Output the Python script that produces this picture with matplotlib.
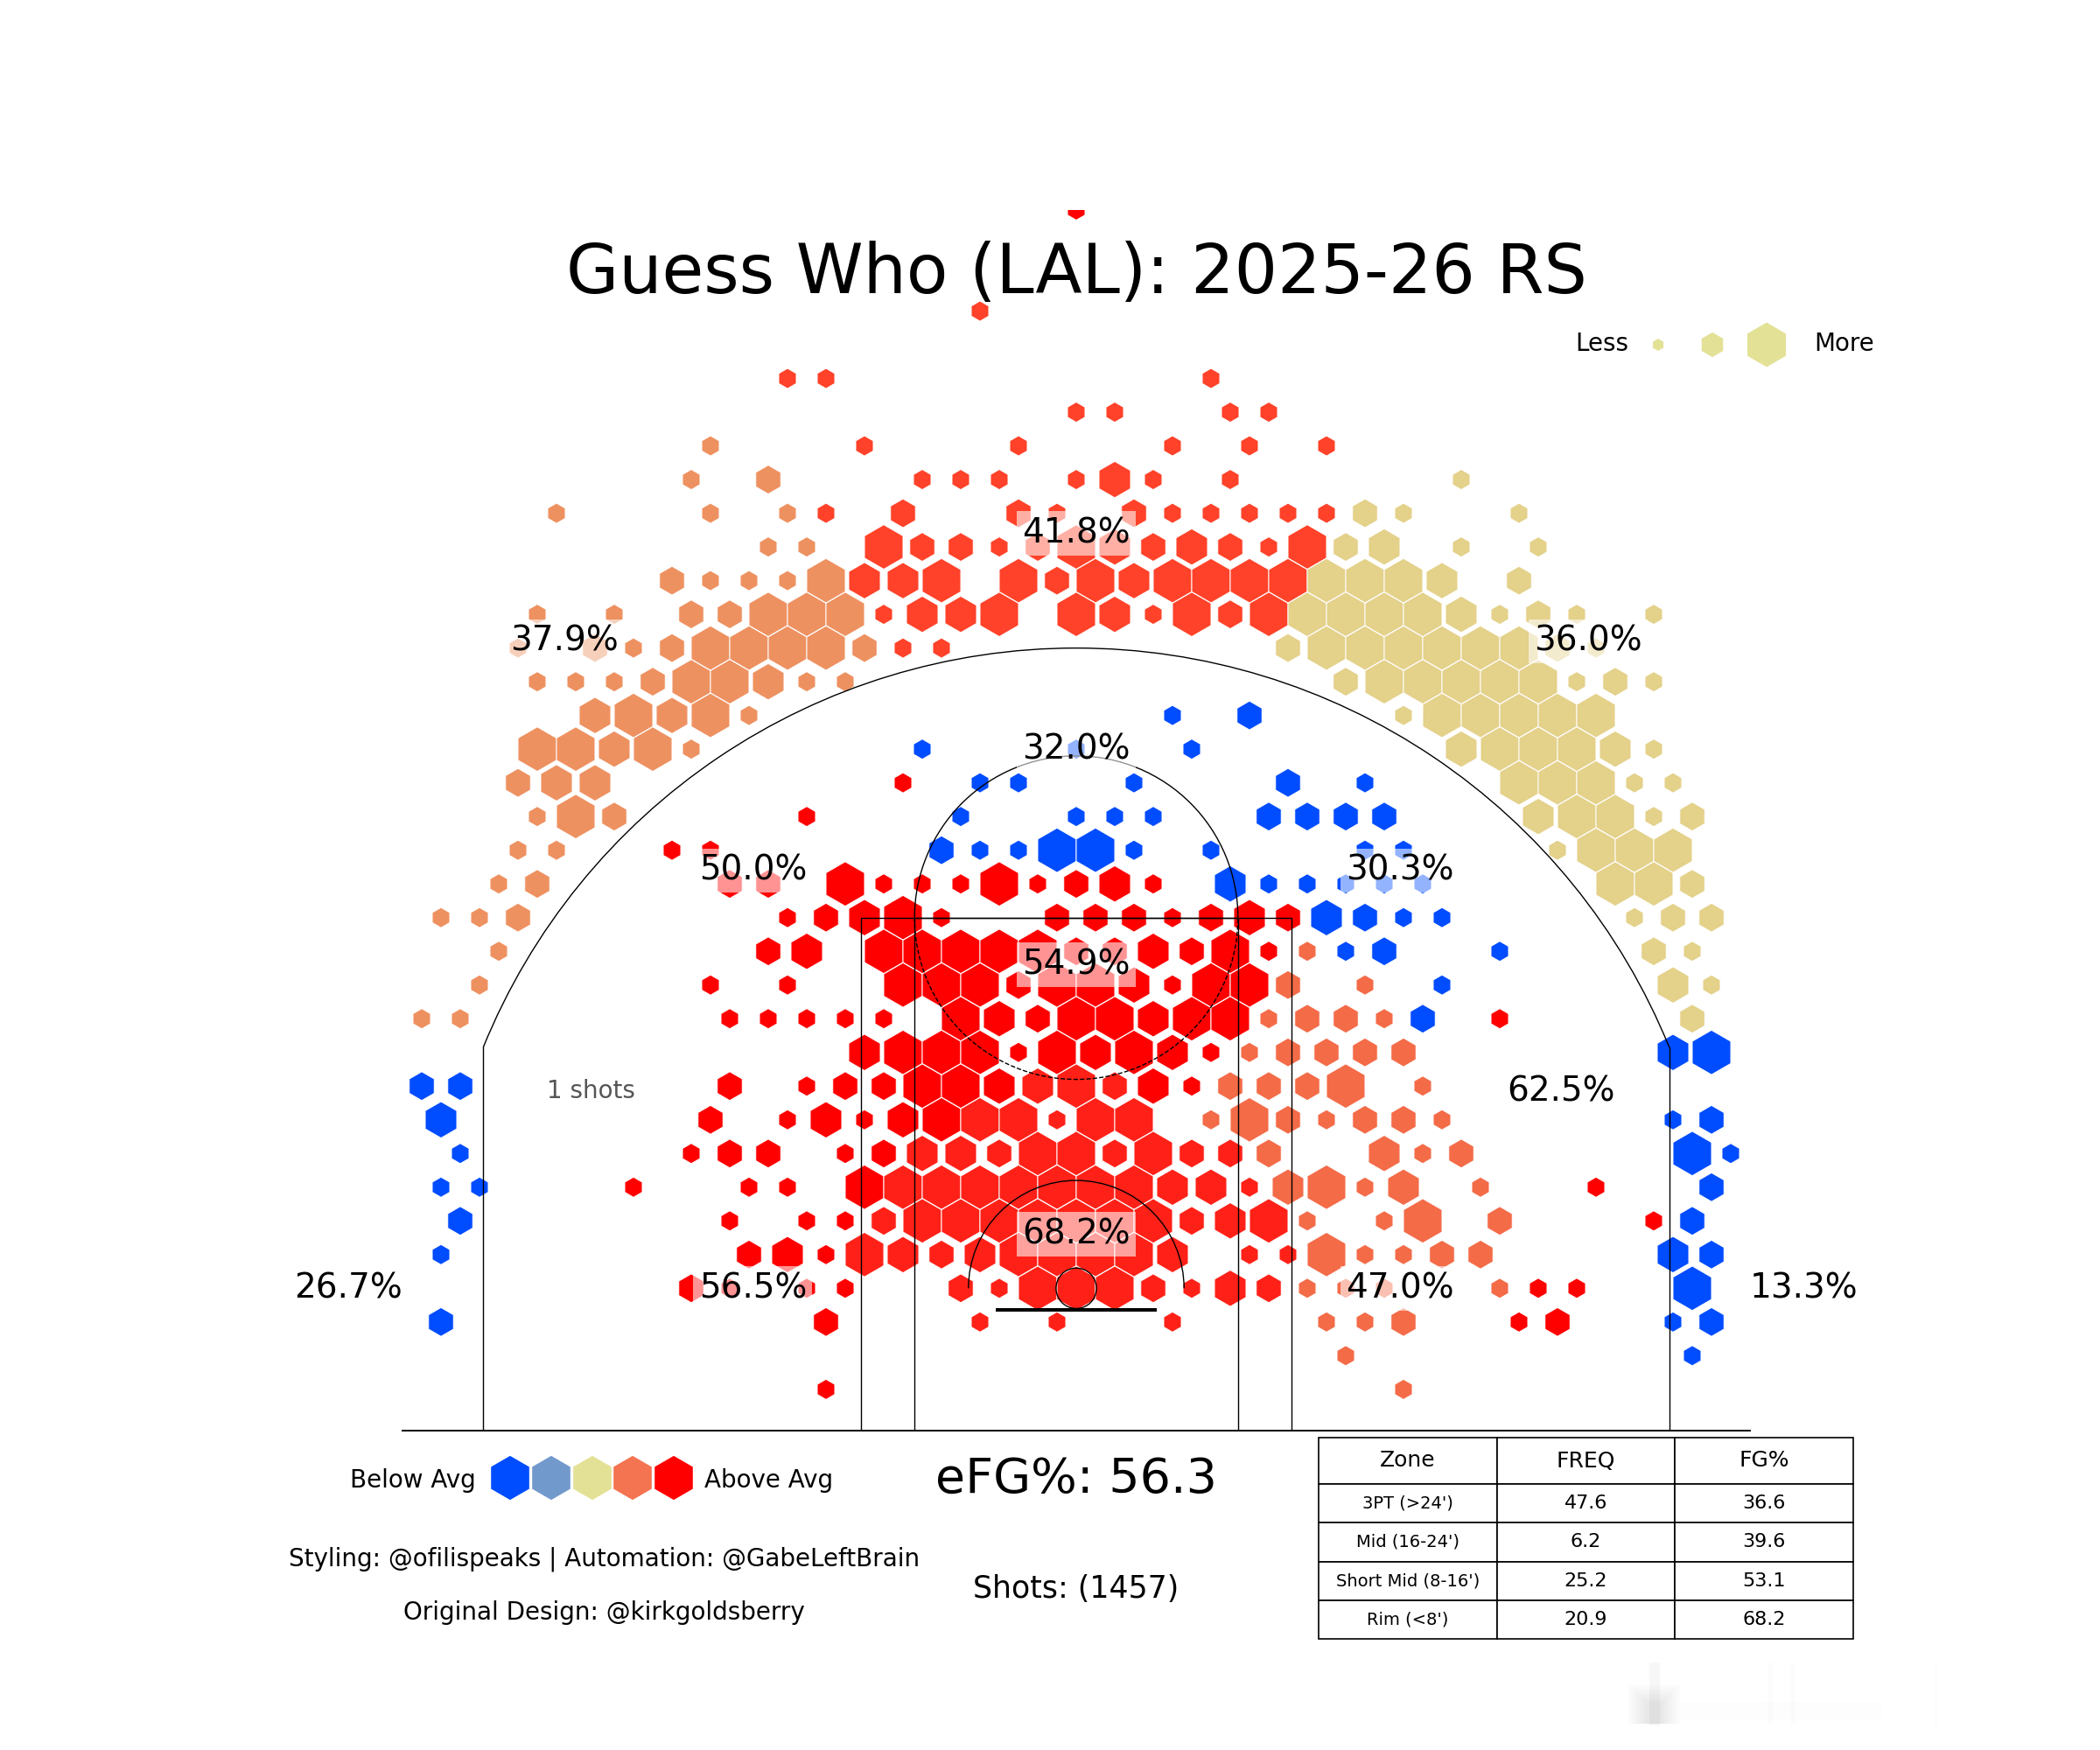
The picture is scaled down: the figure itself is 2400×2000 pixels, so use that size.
import numpy as np
import matplotlib
matplotlib.use('Agg')
import matplotlib.pyplot as plt
from matplotlib.patches import Circle, Arc, Rectangle

W, H = 2400.0, 2000.0

# hexbin cells as (row, half column, size class), one list per zone colour
orange_hexes = [(25,-19,1),(24,-20,1),(24,-16,2),(23,-27,1),(23,-19,1),(23,-15,1),(22,-16,1),(22,-14,1),
    (21,-21,2),(21,-19,1),(21,-17,1),(21,-15,1),(21,-13,4),
    (20,-28,1),(20,-24,1),(20,-20,2),(20,-18,2),(20,-16,4),(20,-14,4),(20,-12,4),
    (19,-29,1),(19,-25,2),(19,-23,1),(19,-21,2),(19,-19,4),(19,-17,4),(19,-15,4),(19,-13,4),(19,-11,2),
    (18,-28,1),(18,-26,1),(18,-24,1),(18,-22,2),(18,-20,4),(18,-18,4),(18,-16,3),(18,-14,1),(18,-12,1),
    (17,-25,3),(17,-23,4),(17,-21,3),(17,-19,4),(17,-17,1),
    (16,-28,4),(16,-26,4),(16,-24,3),(16,-22,4),(16,-20,1),
    (15,-29,2),(15,-27,3),(15,-25,3),(14,-28,1),(14,-26,4),(14,-24,2),(13,-29,1),(13,-27,1),
    (12,-30,1),(12,-28,2),(11,-33,1),(11,-31,1),(11,-29,2),(10,-30,1),(9,-31,1),(8,-34,1),(8,-32,1)]

top_hexes = [(29,-5,1),(27,-15,1),(27,-13,1),(27,7,1),(26,0,1),(26,2,1),(26,8,1),(26,10,1),
    (25,-11,1),(25,-3,1),(25,5,1),(25,9,1),(25,13,1),
    (24,-8,1),(24,-6,1),(24,-4,1),(24,0,1),(24,2,3),(24,4,1),(24,8,1),
    (23,-13,1),(23,-9,2),(23,-3,2),(23,-1,1),(23,3,2),(23,5,1),(23,7,1),(23,9,1),(23,11,1),(23,13,1),
    (22,-10,4),(22,-8,2),(22,-6,2),(22,-4,1),(22,-2,2),(22,0,4),(22,2,3),(22,4,2),(22,6,3),(22,8,2),(22,10,1),(22,12,4),
    (21,-11,3),(21,-9,3),(21,-7,4),(21,-3,4),(21,-1,2),(21,1,4),(21,3,3),(21,5,4),(21,7,4),(21,9,4),(21,11,4),
    (20,-10,1),(20,-8,3),(20,-6,3),(20,-4,4),(20,0,4),(20,2,3),(20,4,1),(20,6,4),(20,8,2),(20,10,4),
    (19,-9,1),(19,-7,1)]

tan_hexes = [(24,20,1),(23,15,2),(23,17,1),(23,23,1),(22,14,2),(22,16,3),(22,20,1),(22,24,1),
    (21,13,4),(21,15,4),(21,17,4),(21,19,3),(21,23,2),
    (20,12,4),(20,14,4),(20,16,4),(20,18,4),(20,20,3),(20,22,1),(20,24,2),(20,26,1),(20,30,1),
    (19,11,2),(19,13,4),(19,15,4),(19,17,4),(19,19,4),(19,21,4),(19,23,4),(19,25,2),(19,27,1),
    (18,14,2),(18,16,4),(18,18,4),(18,20,4),(18,22,4),(18,24,4),(18,26,1),(18,28,2),(18,30,1),
    (17,17,1),(17,19,4),(17,21,4),(17,23,4),(17,25,4),(17,27,4),
    (16,20,3),(16,22,4),(16,24,4),(16,26,4),(16,28,3),(16,30,1),
    (15,23,4),(15,25,4),(15,27,4),(15,29,1),(15,31,1),
    (14,24,3),(14,26,4),(14,28,4),(14,30,1),(14,32,2),
    (13,25,1),(13,27,4),(13,29,4),(13,31,4),(12,28,4),(12,30,4),(12,32,2),
    (11,29,1),(11,31,2),(11,33,2),(10,30,2),(10,32,1),(9,31,3),(9,33,1),(8,32,2)]

blue_hexes = [(6,-34,2),(6,-32,2),(5,-33,3),(4,-32,1),(3,-33,1),(3,-31,1),(2,-32,2),(1,-33,1),(-1,-33,2),
    (7,31,3),(7,33,4),(5,31,1),(5,33,2),(4,32,4),(4,34,1),(3,33,2),(2,32,2),(1,31,3),(1,33,2),
    (0,32,4),(-1,31,1),(-1,33,2),(-2,32,1),
    (17,5,1),(17,9,2),(16,-8,1),(16,0,1),(16,6,1),(15,-5,1),(15,-3,1),(15,3,1),(15,11,2),(15,15,1),
    (14,-6,1),(14,0,1),(14,2,1),(14,4,1),(14,10,2),(14,12,2),(14,14,2),(14,16,2),
    (13,-7,2),(13,-5,1),(13,-3,1),(13,-1,4),(13,1,4),(13,3,1),(13,7,1),(13,15,1),(13,17,1),
    (12,8,3),(12,10,1),(12,12,1),(12,14,1),(12,16,1),(12,18,1),
    (11,13,3),(11,15,2),(11,17,1),(11,19,1),(10,14,1),(10,16,2),(10,22,1),(9,19,1),(8,18,2)]

red_hexes = [(32,0,1),(15,-9,1),(14,-14,1),(13,-21,1),(13,-19,1),
    (12,-18,2),(12,-16,2),(12,-12,4),(12,-10,1),(12,-8,1),(12,-6,1),(12,-4,4),(12,-2,1),(12,0,2),(12,2,3),(12,4,1),
    (11,-15,1),(11,-13,2),(11,-11,3),(11,-9,4),(11,-7,1),(11,-1,2),(11,1,2),(11,3,2),(11,5,1),(11,7,2),(11,9,3),(11,11,2),
    (10,-16,2),(10,-14,3),(10,-10,4),(10,-8,4),(10,-6,4),(10,-4,4),(10,-2,4),(10,0,2),(10,2,2),(10,4,3),(10,6,2),(10,8,4),(10,10,1),
    (9,-19,1),(9,-15,1),(9,-9,4),(9,-7,4),(9,-5,4),(9,-3,2),(9,-1,4),(9,1,4),(9,3,3),(9,5,1),(9,7,4),(9,9,4),
    (8,-18,1),(8,-16,1),(8,-14,1),(8,-12,1),(8,-10,1),(8,-6,4),(8,-4,3),(8,-2,2),(8,0,4),(8,2,4),(8,4,3),(8,6,4),(8,8,4),(8,22,1),
    (7,-11,3),(7,-9,4),(7,-7,4),(7,-5,4),(7,-3,1),(7,-1,4),(7,1,3),(7,3,4),(7,5,3),(7,7,1),
    (6,-18,2),(6,-14,1),(6,-12,2),(6,-10,2),(6,-8,4),(6,-6,4),(6,-4,3),(6,4,3),(6,6,1),
    (5,-19,2),(5,-15,1),(5,-13,3),(5,-11,1),(5,-9,3),(5,-7,4),
    (4,-20,1),(4,-18,2),(4,-16,2),(4,-12,1),(4,-10,2),
    (3,-23,1),(3,-17,1),(3,-15,1),(3,-11,4),(3,27,1),
    (2,-18,1),(2,-14,1),(2,-12,1),(2,30,1),(1,-17,2),(1,-15,3),(1,-13,1),
    (0,-20,2),(0,-18,1),(0,-14,1),(0,-12,1),(0,24,1),(0,26,1),(-1,-13,2),(-1,23,1),(-1,25,2),(-3,-13,1)]

rim_hexes = [(6,-2,3),(6,0,4),(6,2,2),(5,-5,4),(5,-3,4),(5,-1,1),(5,1,4),(5,3,4),
    (4,-8,3),(4,-6,3),(4,-4,2),(4,-2,4),(4,0,4),(4,2,2),(4,4,4),(4,6,2),(4,8,2),
    (3,-9,4),(3,-7,4),(3,-5,4),(3,-3,4),(3,-1,4),(3,1,4),(3,3,4),(3,5,3),(3,7,3),(3,9,1),
    (2,-10,2),(2,-8,4),(2,-6,4),(2,-4,4),(2,-2,4),(2,0,4),(2,2,4),(2,4,4),(2,6,2),(2,8,3),(2,10,4),
    (1,-11,4),(1,-9,3),(1,-7,2),(1,-5,3),(1,-3,4),(1,-1,4),(1,1,4),(1,3,4),(1,5,3),(1,9,1),(1,11,1),
    (0,-6,2),(0,-4,1),(0,-2,4),(0,0,4),(0,2,4),(0,4,2),(0,6,1),(0,8,3),(0,10,2),
    (-1,-5,1),(-1,-1,1),(-1,5,1)]

coral_hexes = [(10,12,1),(9,11,2),(9,15,1),(8,10,1),(8,12,2),(8,14,2),(8,16,1),
    (7,9,1),(7,11,2),(7,13,2),(7,15,2),(7,17,2),
    (6,8,2),(6,10,2),(6,12,2),(6,14,4),(6,18,1),
    (5,7,1),(5,9,4),(5,11,2),(5,13,1),(5,15,2),(5,17,2),(5,19,1),
    (4,10,2),(4,16,3),(4,18,1),(4,20,2),
    (3,11,3),(3,13,4),(3,15,1),(3,17,3),(3,21,1),
    (2,12,1),(2,16,1),(2,18,4),(2,22,2),
    (1,13,4),(1,15,1),(1,17,1),(1,19,2),(1,21,2),
    (0,12,1),(0,14,1),(0,16,1),(0,22,1),(-1,13,1),(-1,15,1),(-1,17,2),(-2,14,1),(-3,17,1)]

zone_labels = ['41.8%','37.9%','36.0%','32.0%','50.0%','30.3%','54.9%','26.7%','13.3%','56.5%','47.0%','68.2%','62.5%']
zone_x = [0,-190,190,0,-120,120,0,-270,270,-120,120,0,180]
zone_y = [280,240,240,200,155,155,120,0,0,0,0,20,73]

table_cols = ['Zone','FREQ','FG%']
table_zones = ["3PT (>24')","Mid (16-24')","Short Mid (8-16')","Rim (<8')"]
table_freq = ['47.6','6.2','25.2','20.9']
table_fg = ['36.6','39.6','53.1','68.2']

legend_colors = ['#004CFF','#7299CC','#E3E196','#F47350','#FF0000']

# flat to flat hex width in pixels for every size class, white edge eats about 1px of it
size_px = {1:20.0, 2:28.5, 3:36.0, 4:44.0}

def hex_s(px):
    # scatter area for the 'h' marker, sqrt(s) is its point to point height in points
    return (px*2/np.sqrt(3)*72.0/200)**2

fig = plt.figure(figsize=(12,10), dpi=200)
ax = fig.add_axes([460/W, 1-1635/H, 1540/W, 1395/H])
ax.set_xlim(-250,250)
ax.set_ylim(-52.8,400)
ax.axis('off')

DX = 500/35.0
DY = 12.5

def draw_hexes(cells, color):
    cells = np.array(cells)
    # thin white edge keeps the gap between touching cells
    ax.scatter(cells[:,1]*DX/2, cells[:,0]*DY, s=[hex_s(size_px[k]) for k in cells[:,2]],
               marker='h', color=color, edgecolors='white', linewidths=0.35, zorder=2)

draw_hexes(orange_hexes, '#EE9160')
draw_hexes(top_hexes, '#FF4229')
draw_hexes(tan_hexes, '#E4D18A')
draw_hexes(blue_hexes, '#004CFF')
draw_hexes(red_hexes, '#FF0000')
draw_hexes(rim_hexes, '#FF2118')
draw_hexes(coral_hexes, '#F46B48')

#court
lw = 0.5
court = dict(color='black', lw=lw, zorder=3, fill=False)
ax.add_patch(Circle((0,0), 7.5, **court))
ax.add_patch(Rectangle((-30,-8.7), 60, 1.3, color='black', lw=0, zorder=3))
ax.add_patch(Rectangle((-80,-52.8), 160, 190.3, **court))
ax.add_patch(Rectangle((-60,-52.8), 120, 190.3, **court))
ax.add_patch(Arc((0,137.5), 120, 120, theta1=0, theta2=180, color='black', lw=lw, zorder=3))
ax.add_patch(Arc((0,137.5), 120, 120, theta1=180, theta2=360, color='black', lw=lw, ls='dashed', zorder=3))
ax.add_patch(Arc((0,0), 80, 80, theta1=0, theta2=180, color='black', lw=lw, zorder=3))
ax.add_patch(Arc((0,0), 475, 475, theta1=22.1, theta2=157.9, color='black', lw=lw, zorder=3))
ax.plot([-220,-220],[-52.8,89.5], color='black', lw=lw, zorder=3)
ax.plot([220,220],[-52.8,89.5], color='black', lw=lw, zorder=3)
ax.plot([-250,250],[-52.8,-52.8], color='black', lw=lw+0.2, zorder=3, clip_on=False)

for name, x, y in zip(zone_labels, zone_x, zone_y):
    ax.text(x, y, name, fontsize=14, ha='center', va='center', zorder=5,
            bbox=dict(facecolor='white', alpha=0.58, edgecolor='none', pad=2.2))
ax.text(-180, 73, '1 shots', fontsize=10, color='#555555', ha='center', va='center', zorder=5)

def ftext(x, y, s, size):
    fig.text(x/W, 1-y/H, s, fontsize=size, ha='center', va='center', zorder=6)

ftext(1230, 313, 'Guess Who (LAL): 2025-26 RS', 28)
ftext(1831, 393, 'Less', 10)
ftext(2108, 393, 'More', 10)
ftext(472, 1692, 'Below Avg', 10)
ftext(879, 1692, 'Above Avg', 10)
ftext(1230, 1691, 'eFG%: 56.3', 20)
ftext(1230, 1816, 'Shots: (1457)', 12.5)
ftext(691, 1782, 'Styling: @ofilispeaks | Automation: @GabeLeftBrain', 10)
ftext(690, 1843, 'Original Design: @kirkgoldsberry', 10)

# overlay axes in pixel coordinates for the two hex legends
lg = fig.add_axes([0,0,1,1])
lg.set_xlim(0,W)
lg.set_ylim(H,0)
lg.axis('off')
lg.patch.set_alpha(0)
lg.scatter([583,630,677,723,770], [1689]*5, s=hex_s(43.6), marker='h', color=legend_colors, linewidths=0)
lg.scatter([1895,1957,2019], [394,394,394], s=[hex_s(px) for px in (12,24.5,44)], marker='h', color='#E3E196', linewidths=0)

# faint smudge in the lower right corner
for k in range(8):
    lg.add_patch(Rectangle((1860+k*3,1925+k*3), 60-k*6, 45-k*3, color='black', alpha=0.01, lw=0))
for sx, sw, sa in [(1885,12,0.03),(2020,6,0.01),(2046,6,0.01),(2210,5,0.006)]:
    lg.add_patch(Rectangle((sx,1900), sw, 72, color='black', alpha=sa, lw=0))
lg.add_patch(Rectangle((1920,1945), 230, 20, color='black', alpha=0.008, lw=0))

tb_ax = fig.add_axes([1507/W, 1-1873/H, 611/W, 230/H])
tb_ax.axis('off')
tb = tb_ax.table(cellText=list(zip(table_zones, table_freq, table_fg)), colLabels=table_cols,
                 cellLoc='center', bbox=[0,0,1,1])
tb.auto_set_font_size(False)
heights = [53,44,45,44,44]
for (r,c), cell in tb.get_celld().items():
    cell.set_height(heights[r]/230.0)
    cell.set_linewidth(0.6)
    if r == 0:
        cell.set_fontsize(9)
    elif c == 0:
        cell.set_fontsize(7)
    else:
        cell.set_fontsize(8)

fig.savefig('out.png', dpi=200)
